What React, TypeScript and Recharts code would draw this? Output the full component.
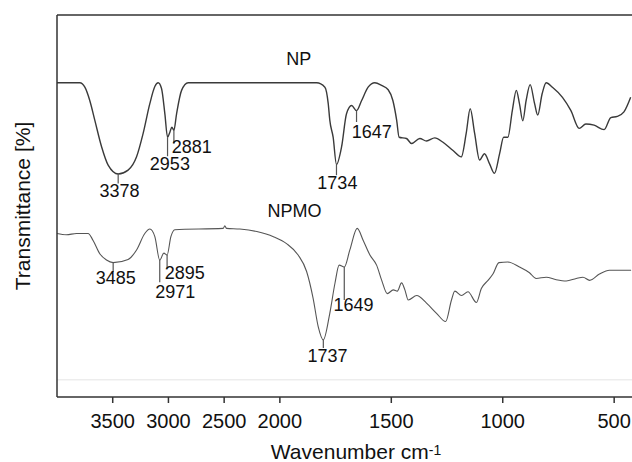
import { LineChart, Line, XAxis, YAxis, ReferenceLine, ReferenceDot } from 'recharts';

// wavenumbers (cm-1) and transmittance (arbitrary units, y ticks at 1..6)
const npWave = [4000, 3795, 3750, 3706, 3661, 3600, 3541, 3451, 3362, 3286, 3227, 3167, 3122, 3092, 3062, 3032, 3008, 2987, 2969, 2951, 2927, 2882, 2823, 2400, 2000, 1835, 1798, 1783, 1776, 1761, 1746, 1723, 1701, 1678, 1656, 1633, 1604, 1574, 1544, 1514, 1493, 1476, 1465, 1432, 1409, 1372, 1342, 1305, 1268, 1223, 1186, 1164, 1146, 1126, 1104, 1082, 1059, 1037, 1014, 996, 977, 957, 939, 925, 910, 895, 877, 857, 843, 823, 805, 777, 732, 694, 657, 627, 590, 545, 515, 486, 456, 426];
const npValue = [5.0, 5.0, 4.93, 4.72, 4.41, 3.99, 3.7, 3.56, 3.62, 3.83, 4.2, 4.67, 4.94, 5.0, 4.91, 4.51, 4.14, 4.22, 4.3, 4.25, 4.51, 4.88, 5.0, 5.0, 5.0, 5.0, 4.93, 4.67, 4.41, 4.14, 3.71, 3.99, 4.51, 4.64, 4.56, 4.72, 4.93, 5.0, 4.96, 4.89, 4.72, 4.41, 4.14, 4.12, 4.04, 4.12, 4.08, 4.13, 4.06, 3.93, 3.83, 4.2, 4.59, 4.2, 3.78, 3.88, 3.72, 3.57, 3.88, 4.14, 4.14, 4.56, 4.88, 4.67, 4.4, 4.72, 4.97, 4.67, 4.49, 4.83, 5.0, 4.93, 4.77, 4.56, 4.28, 4.35, 4.33, 4.26, 4.45, 4.47, 4.54, 4.77];

const npmoWave = [4000, 3915, 3825, 3721, 3676, 3616, 3556, 3496, 3362, 3286, 3212, 3167, 3122, 3078, 3041, 3012, 2978, 2943, 2509, 2494, 2478, 2359, 2207, 2058, 1970, 1918, 1880, 1851, 1828, 1805, 1776, 1753, 1734, 1711, 1686, 1653, 1626, 1596, 1566, 1543, 1518, 1491, 1473, 1454, 1439, 1424, 1386, 1342, 1297, 1256, 1230, 1215, 1185, 1156, 1118, 1096, 1066, 1044, 1017, 977, 925, 880, 850, 805, 760, 715, 670, 640, 610, 566, 521, 424];
const npmoValue = [2.62, 2.6, 2.62, 2.62, 2.51, 2.3, 2.2, 2.16, 2.21, 2.36, 2.62, 2.69, 2.57, 2.2, 2.31, 2.28, 2.57, 2.68, 2.7, 2.74, 2.7, 2.69, 2.65, 2.57, 2.46, 2.28, 2.02, 1.6, 1.15, 0.94, 1.36, 1.83, 2.12, 2.09, 2.36, 2.7, 2.51, 2.28, 2.12, 1.88, 1.67, 1.73, 1.71, 1.84, 1.73, 1.57, 1.64, 1.52, 1.36, 1.23, 1.57, 1.71, 1.64, 1.7, 1.53, 1.75, 1.88, 1.98, 2.16, 2.17, 2.09, 2.0, 1.91, 1.93, 1.89, 1.87, 1.91, 1.93, 1.88, 1.98, 2.04, 2.04];

const tickWaves = [3500, 3000, 2500, 2000, 1500, 1000, 500];
const yTicks = [1, 2, 3, 4, 5, 6];

// peak markers: label, wavenumber of the tick, from/to value, where the text sits
const peakLabels = ['3378', '2953', '2881', '1734', '1647', '3485', '2971', '2895', '1737', '1649'];
const peakWaves = [3451, 3008, 2951, 1746, 1656, 3496, 3078, 3012, 1805, 1711];
const peakFrom = [3.56, 4.14, 4.25, 3.71, 4.56, 2.16, 2.2, 2.28, 0.94, 2.09];
const peakTo = [3.41, 3.84, 4.04, 3.54, 4.38, 2.01, 1.85, 2.07, 0.81, 1.57];
const textWaves = [3440, 2987, 2790, 1742, 1588, 3472, 2938, 2853, 1786, 1670];
const textValues = [3.29, 3.72, 3.99, 3.42, 4.23, 1.91, 1.7, 1.99, 0.69, 1.49];

const seriesNames = ['NP', 'NPMO'];
const nameWaves = [1915, 1934];
const nameValues = [5.37, 2.97];

const FONT = '"Liberation Sans", Arial, Helvetica, sans-serif';

// split axis: 4000-2000 drawn at half the scale of 2000-400
const toPos = (w: number) => (w >= 2000 ? (4000 - w) / 500 : 4 + (2000 - w) / 250);
const toWave = (p: number) => (p <= 4 ? 4000 - p * 500 : 2000 - (p - 4) * 250);

const npData = npWave.map((w, i) => ({ pos: toPos(w), v: npValue[i] }));
const npmoData = npmoWave.map((w, i) => ({ pos: toPos(w), v: npmoValue[i] }));

const textShape = (label: string) => (props: any) => (
  <text
    x={props.cx}
    y={props.cy}
    textAnchor="middle"
    dominantBaseline="central"
    fontSize={18}
    fontFamily={FONT}
    fill="#111"
  >
    {label}
  </text>
);

export default function App() {
  return (
    <div style={{ position: 'absolute', left: 0, top: 0, width: 632, height: 462, background: '#fff' }}>
      <LineChart width={632} height={462} margin={{ top: 15, right: 0, bottom: 0, left: 0 }}>
        <XAxis
          type="number"
          dataKey="pos"
          domain={[0, toPos(420)]}
          ticks={tickWaves.map(toPos)}
          tickFormatter={(p: number) => String(Math.round(toWave(p)))}
          allowDataOverflow
          height={65}
          tickSize={6}
          tickMargin={11}
          stroke="#333"
          strokeWidth={1.5}
          tick={{ fontSize: 20, fill: '#111', fontFamily: FONT }}
          label={{
            content: () => (
              <text x={356} y={459} textAnchor="middle" fontSize={21} fontFamily={FONT} fill="#111">
                Wavenumber cm<tspan dy={-4} fontSize={14}>-1</tspan>
              </text>
            ),
          }}
        />
        <YAxis
          type="number"
          domain={[0.038, 6.07]}
          ticks={yTicks}
          allowDataOverflow
          width={57}
          tick={false}
          tickSize={6}
          stroke="#333"
          strokeWidth={1.5}
          label={{
            content: () => (
              <text
                transform="translate(30, 206) rotate(-90)"
                textAnchor="middle"
                fontSize={21}
                fontFamily={FONT}
                fill="#111"
              >
                Transmittance [%]
              </text>
            ),
          }}
        />
        <ReferenceLine y={6.07} stroke="#333" strokeWidth={1.5} />
        <ReferenceLine y={0.31} stroke="#ededed" strokeWidth={1.5} />
        <Line
          data={npData}
          dataKey="v"
          type="monotone"
          stroke="#3a3a3a"
          strokeWidth={1.4}
          dot={false}
          isAnimationActive={false}
        />
        <Line
          data={npmoData}
          dataKey="v"
          type="monotone"
          stroke="#555"
          strokeWidth={1.1}
          dot={false}
          isAnimationActive={false}
        />
        {peakLabels.map((label, i) => (
          <ReferenceLine
            key={'m' + label}
            segment={[
              { x: toPos(peakWaves[i]), y: peakFrom[i] },
              { x: toPos(peakWaves[i]), y: peakTo[i] },
            ]}
            stroke="#555"
            strokeWidth={1.2}
          />
        ))}
        {peakLabels.map((label, i) => (
          <ReferenceDot
            key={'t' + label}
            x={toPos(textWaves[i])}
            y={textValues[i]}
            r={0}
            shape={textShape(label)}
          />
        ))}
        {seriesNames.map((name, i) => (
          <ReferenceDot
            key={'n' + name}
            x={toPos(nameWaves[i])}
            y={nameValues[i]}
            r={0}
            shape={textShape(name)}
          />
        ))}
      </LineChart>
    </div>
  );
}
